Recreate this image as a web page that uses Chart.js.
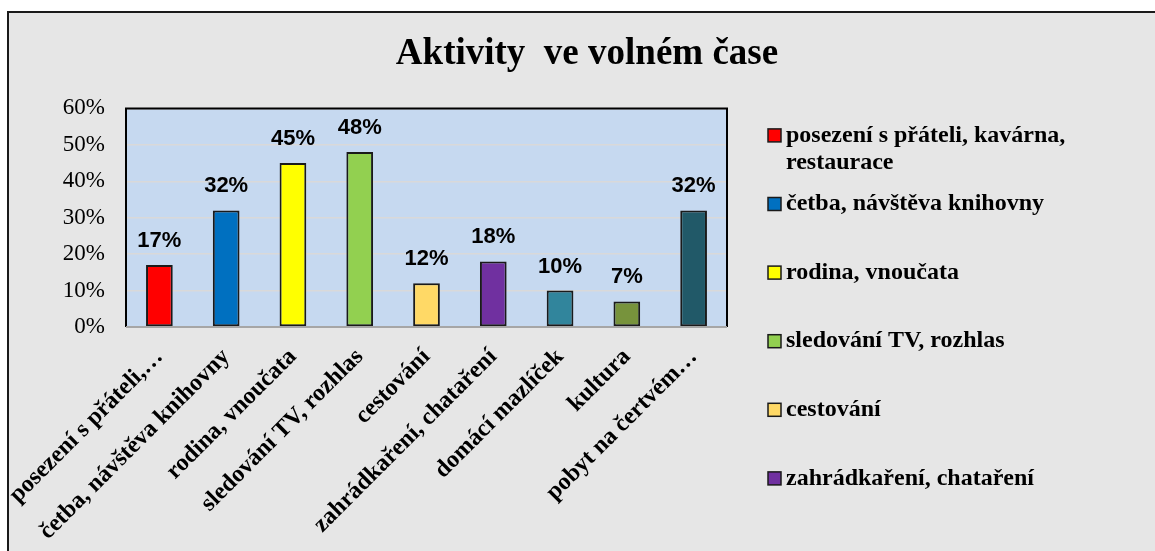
<!DOCTYPE html>
<html>
<head>
<meta charset="utf-8">
<script src="https://cdn.jsdelivr.net/npm/chart.js@4.4.1/dist/chart.umd.min.js"></script>
<style>
  html, body { margin: 0; padding: 0; background: #ffffff; overflow: hidden; width: 1155px; height: 551px; }
  #box {
    position: absolute; left: 7px; top: 11px;
    width: 1156px; height: 545px;
    background: #e6e6e6; border: 2px solid #1a1a1a;
  }
</style>
</head>
<body>
<div id="box"><canvas id="myChart" width="1156" height="545"></canvas></div>
<script>
const categories = [
    'posezení s přáteli, kavárna, restaurace',
    'četba, návštěva knihovny',
    'rodina, vnoučata',
    'sledování TV, rozhlas',
    'cestování',
    'zahrádkaření, chataření',
    'domácí mazlíček',
    'kultura',
    'pobyt na čertvém vzduchu'
];
const xTickLabels = [
    'posezení s přáteli,…',
    'četba, návštěva knihovny',
    'rodina, vnoučata',
    'sledování TV, rozhlas',
    'cestování',
    'zahrádkaření, chataření',
    'domácí mazlíček',
    'kultura',
    'pobyt na čertvém…'
];
const values = [17, 32, 45, 48, 12, 18, 10, 7, 32];
const barColors = ['#ff0000', '#0070c0', '#ffff00', '#92d050', '#ffd966', '#7030a0', '#31859c', '#77933c', '#215968'];
const yTicks = [0, 10, 20, 30, 40, 50, 60];

const serif = '"Liberation Serif", "Times New Roman", serif';

// plot background + frame, value labels
const plotFrame = {
    id: 'plotFrame',
    beforeDraw(chart) {
        const {ctx, chartArea: a} = chart;
        ctx.save();
        ctx.fillStyle = '#c6d9f0';
        ctx.fillRect(a.left, a.top, a.right - a.left, a.bottom - a.top);
        ctx.restore();
    },
    afterDatasetsDraw(chart) {
        const {ctx, chartArea: a} = chart;
        ctx.save();
        ctx.lineWidth = 2;
        ctx.strokeStyle = '#000000';
        ctx.beginPath();
        ctx.moveTo(a.left, a.bottom);
        ctx.lineTo(a.left, a.top);
        ctx.lineTo(a.right, a.top);
        ctx.lineTo(a.right, a.bottom);
        ctx.stroke();
        ctx.strokeStyle = '#a6a6a6';
        ctx.beginPath();
        ctx.moveTo(a.left, a.bottom);
        ctx.lineTo(a.right, a.bottom);
        ctx.stroke();

        ctx.font = 'bold 22px "Liberation Sans", Arial, sans-serif';
        ctx.fillStyle = '#000000';
        ctx.textAlign = 'center';
        ctx.textBaseline = 'alphabetic';
        chart.getDatasetMeta(0).data.forEach((bar, i) => {
            ctx.fillText(values[i] + '%', bar.x, bar.y - 18);
        });
        ctx.restore();
    }
};

// legend on the right, Excel style (wrapped, cut off at the bottom)
const sideLegend = {
    id: 'sideLegend',
    afterDraw(chart) {
        const {ctx, chartArea: a} = chart;
        const x0 = a.right + 41;
        const maxW = 360;
        let y = a.top + 27;
        ctx.save();
        ctx.font = 'bold 24px ' + serif;
        ctx.textBaseline = 'middle';
        ctx.textAlign = 'left';
        for (let i = 0; i < categories.length; i++) {
            if (y + 30 > chart.height) break;
            // wrap text
            const words = categories[i].split(' ');
            const lines = [];
            let cur = '';
            words.forEach(w => {
                const t = cur ? cur + ' ' + w : w;
                if (ctx.measureText(t).width > maxW && cur) { lines.push(cur); cur = w; }
                else cur = t;
            });
            lines.push(cur);

            ctx.fillStyle = barColors[i];
            ctx.fillRect(x0, y - 6.5, 13, 13);
            ctx.lineWidth = 1.5;
            ctx.strokeStyle = '#1a1a1a';
            ctx.strokeRect(x0, y - 6.5, 13, 13);
            ctx.fillStyle = '#000000';
            lines.forEach((ln, k) => ctx.fillText(ln, x0 + 18, y + k * 27));
            y += 68.6;
        }
        ctx.restore();
    }
};

new Chart(document.getElementById('myChart'), {
    type: 'bar',
    data: {
        labels: categories,
        datasets: [{
            data: values,
            backgroundColor: barColors,
            borderColor: '#1a1a1a',
            borderWidth: 2,
            borderSkipped: false,
            categoryPercentage: 1,
            barPercentage: 0.4
        }]
    },
    options: {
        responsive: false,
        animation: false,
        layout: { padding: 0 },
        plugins: {
            legend: { display: false },
            tooltip: { enabled: false },
            title: {
                display: true,
                text: 'Aktivity  ve volném čase',
                color: '#000000',
                font: { family: serif, size: 37, weight: 'bold', lineHeight: 1.2 },
                padding: { top: 19, bottom: 32 }
            }
        },
        scales: {
            x: {
                grid: { display: false, drawTicks: false },
                border: { display: false },
                ticks: {
                    color: '#000000',
                    font: { family: serif, size: 24, weight: 'bold' },
                    minRotation: 45,
                    maxRotation: 45,
                    autoSkip: false,
                    padding: 16,
                    callback: (v, i) => xTickLabels[i]
                },
                afterFit(s) {
                    s.height = 231;
                    s.paddingLeft = 0;
                    s.paddingRight = 0;
                }
            },
            y: {
                min: 0,
                max: 60,
                afterBuildTicks(s) { s.ticks = yTicks.map(v => ({ value: v })); },
                grid: { color: '#d9d9d9', lineWidth: 1.5, drawTicks: false },
                border: { display: false },
                ticks: {
                    color: '#000000',
                    font: { family: serif, size: 23, weight: 'normal' },
                    padding: 21,
                    callback: v => v + '%'
                },
                afterFit(s) { s.width = 117; }
            },
            side: {
                position: 'right',
                grid: { display: false, drawTicks: false },
                border: { display: false },
                ticks: { display: false },
                afterFit(s) { s.width = 438; }
            }
        }
    },
    plugins: [plotFrame, sideLegend]
});
</script>
</body>
</html>
